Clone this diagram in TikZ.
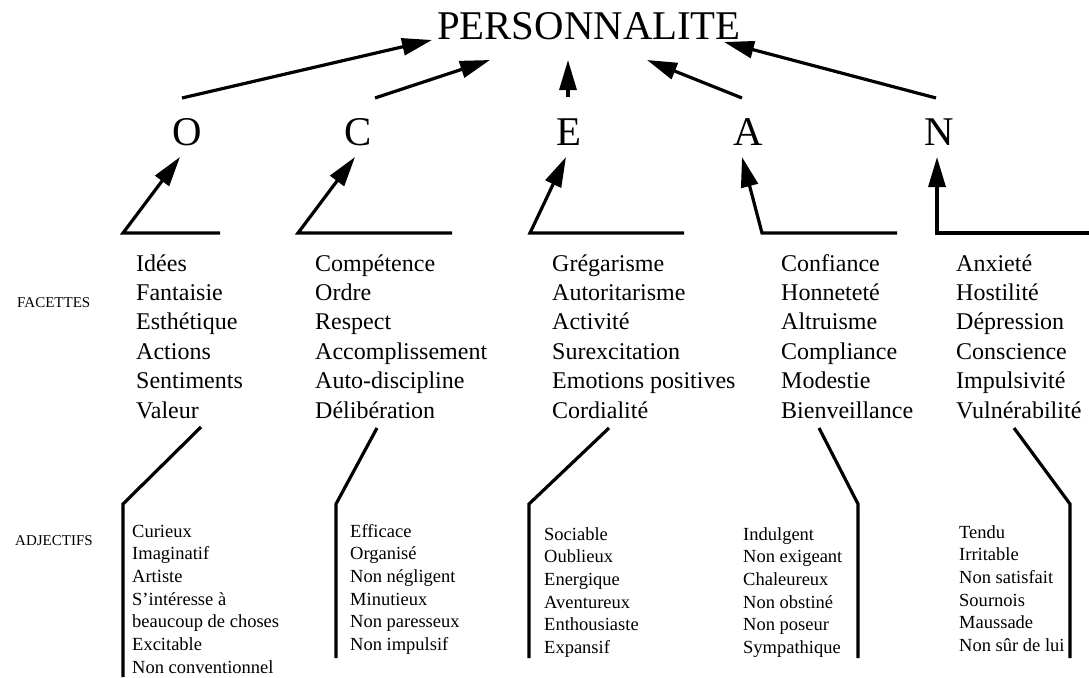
\documentclass[tikz,border=0pt]{standalone}
\usepackage{fontspec}
\setmainfont{Liberation Serif}
\usetikzlibrary{arrows.meta}
\newcommand\lines[1]{\vtop{\halign{##\hfil\cr#1\crcr}}}
\begin{document}
\begin{tikzpicture}[x=1pt,y=-1pt,
  conn/.style={line width=3.2pt},
  arr/.style={conn,-{Triangle[length=30pt,width=17pt]}},
  big/.style={font=\fontsize{40.8}{48}\selectfont, inner sep=0pt, anchor=base},
  facet/.style={font=\fontsize{24}{29.4}\selectfont, inner sep=0pt, anchor=base west},
  adj/.style={font=\fontsize{18.5}{22.7}\selectfont, inner sep=0pt, anchor=base west},
  lab/.style={font=\fontsize{15}{18}\selectfont, inner sep=0pt, anchor=base west}]
\useasboundingbox (0,0) rectangle (1089,677);

% title and factors
\node[big] (P) at (589,40) {PERSONNALITE};
\node[big] (O) at (187,145) {O};
\node[big] (C) at (358,145) {C};
\node[big] (E) at (569,145) {E};
\node[big] (A) at (748,145) {A};
\node[big] (N) at (939,145) {N};

% labels
\node[lab] (lf) at (17,307) {FACETTES};
\node[lab] (la) at (15,545) {ADJECTIFS};

% facets
\node[facet] (fO) at (136,271) {\lines{Idées\cr Fantaisie\cr Esthétique\cr Actions\cr Sentiments\cr Valeur}};
\node[facet] (fC) at (315,271) {\lines{Compétence\cr Ordre\cr Respect\cr Accomplissement\cr Auto-discipline\cr Délibération}};
\node[facet] (fE) at (552,271) {\lines{Grégarisme\cr Autoritarisme\cr Activité\cr Surexcitation\cr Emotions positives\cr Cordialité}};
\node[facet] (fA) at (781,271) {\lines{Confiance\cr Honneteté\cr Altruisme\cr Compliance\cr Modestie\cr Bienveillance}};
\node[facet] (fN) at (956,271) {\lines{Anxieté\cr Hostilité\cr Dépression\cr Conscience\cr Impulsivité\cr Vulnérabilité}};

% adjectives
\node[adj] (aO) at (132,537) {\lines{Curieux\cr Imaginatif\cr Artiste\cr S’intéresse à\cr beaucoup de choses\cr Excitable\cr Non conventionnel}};
\node[adj] (aC) at (350,537) {\lines{Efficace\cr Organisé\cr Non négligent\cr Minutieux\cr Non paresseux\cr Non impulsif}};
\node[adj] (aE) at (544,540) {\lines{Sociable\cr Oublieux\cr Energique\cr Aventureux\cr Enthousiaste\cr Expansif}};
\node[adj] (aA) at (743,540) {\lines{Indulgent\cr Non exigeant\cr Chaleureux\cr Non obstiné\cr Non poseur\cr Sympathique}};
\node[adj] (aN) at (959,538) {\lines{Tendu\cr Irritable\cr Non satisfait\cr Sournois\cr Maussade\cr Non sûr de lui}};

% coordinates for connectors: factor -> PERSONNALITE
\coordinate (sO) at (182,98);  \coordinate (pO) at (432,40);
\coordinate (sC) at (375,98);  \coordinate (pC) at (490,60);
\coordinate (sE) at (568,97);  \coordinate (pE) at (568,60);
\coordinate (sA) at (742,98);  \coordinate (pA) at (647,60);
\coordinate (sN) at (936,98);  \coordinate (pN) at (724,42);
\draw[arr] (sO) -- (pO);
\draw[arr] (sC) -- (pC);
\draw[arr] (sE) -- (pE);
\draw[arr] (sA) -- (pA);
\draw[arr] (sN) -- (pN);

% facets -> factor brackets
\coordinate (bO1) at (220,233); \coordinate (bO2) at (123,233); \coordinate (tO) at (180,157);
\coordinate (bC1) at (452,233); \coordinate (bC2) at (298,233); \coordinate (tC) at (355,157);
\coordinate (bE1) at (684,233); \coordinate (bE2) at (530,233); \coordinate (tE) at (566,157);
\coordinate (bA1) at (897,233); \coordinate (bA2) at (762,233); \coordinate (tA) at (742,157);
\coordinate (bN1) at (1089,233); \coordinate (bN2) at (937,233); \coordinate (tN) at (937,157);
\draw[arr] (bO1) -- (bO2) -- (tO);
\draw[arr] (bC1) -- (bC2) -- (tC);
\draw[arr] (bE1) -- (bE2) -- (tE);
\draw[arr] (bA1) -- (bA2) -- (tA);
\draw[arr] (bN1) -- (bN2) -- (tN);

% adjectives -> facets
\coordinate (uO) at (201,427); \coordinate (kO) at (123,504); \coordinate (dO) at (123,677);
\coordinate (uC) at (377,428); \coordinate (kC) at (336,504); \coordinate (dC) at (336,658);
\coordinate (uE) at (609,428); \coordinate (kE) at (529,504); \coordinate (dE) at (529,658);
\coordinate (uA) at (819,428); \coordinate (kA) at (858,504); \coordinate (dA) at (858,658);
\coordinate (uN) at (1014,428); \coordinate (kN) at (1070,504); \coordinate (dN) at (1070,658);
\draw[conn] (uO) -- (kO) -- (dO);
\draw[conn] (uC) -- (kC) -- (dC);
\draw[conn] (uE) -- (kE) -- (dE);
\draw[conn] (uA) -- (kA) -- (dA);
\draw[conn] (uN) -- (kN) -- (dN);
\end{tikzpicture}
\end{document}
